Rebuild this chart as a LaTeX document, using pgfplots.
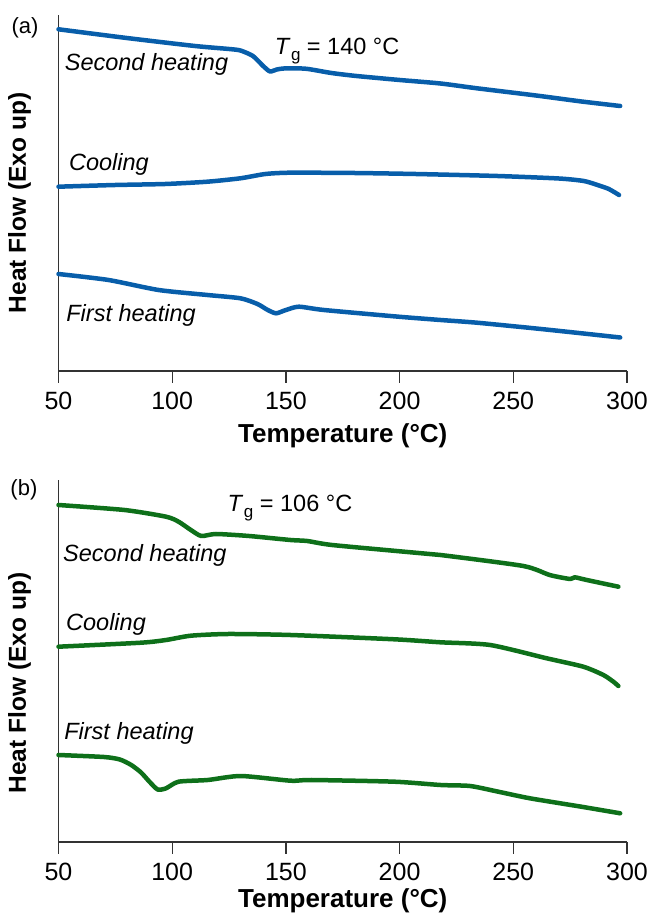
\documentclass[border=0pt]{standalone}
\usepackage{fontspec}
\setmainfont{Liberation Sans}
\usepackage{pgfplots}
\pgfplotsset{compat=1.18}
\definecolor{dscblue}{RGB}{8,94,170}
\definecolor{dscgreen}{RGB}{14,112,26}
\newcommand{\lbl}{\itshape\fontsize{23.5}{28}\selectfont}
\newcommand{\tg}[1]{\textit{T}\kern0.5pt\raisebox{-0.22em}{\fontsize{17}{20}\selectfont g}\ = #1 °C}
\begin{document}%
\begin{tikzpicture}%
\pgfplotsset{dsc/.style={
  scale only axis, width=568.5pt, xmin=50, xmax=300,
  axis lines=left, axis line style={-, line width=1.2pt, black!80},
  xtick={50,100,...,300}, ytick=\empty, tick align=outside,
  major tick length=12pt, tick style={line width=1.2pt, black!80},
  xticklabel style={font=\fontsize{25}{30}\selectfont, yshift=-6pt},
  /pgf/number format/assume math mode=true,
  clip=false, anchor=south west,
  xlabel={Temperature (°C)},
  ylabel={Heat Flow (Exo up)},
  every axis plot/.append style={line width=4.5pt, line join=round, line cap=round, smooth, tension=0.4},
}}%
% ---------------- (a)
\begin{axis}[dsc, at={(58.5pt,545pt)}, height=356pt, ymin=-371, ymax=-15,
  xlabel style={font=\bfseries\fontsize{26}{30}\selectfont, at={(axis description cs:0.5,-0.2022)}, anchor=base},
  ylabel style={font=\bfseries\fontsize{24.5}{30}\selectfont, at={(axis description cs:-0.0572,0.472)}, anchor=base}]
\addplot[dscblue] coordinates {
(50,-29.3) (80,-38) (110,-46) (125,-49) (130,-50.5) (135.5,-56) (140,-66) (143,-71.5)
(146,-69.5) (150,-68.3) (159,-68.8) (170,-73) (181,-76) (200,-80) (218,-83.5) (234,-88.3)
(260,-95.5) (280,-101.5) (297,-106)};
\addplot[dscblue] coordinates {
(50,-186.7) (75,-185) (97,-184) (115.5,-181.7) (130,-178.3) (141,-174) (152,-172.7)
(180,-173) (207,-174) (243,-176) (270,-178.5) (281,-181) (287,-185) (292,-189) (296.5,-195)};
\addplot[dscblue] coordinates {
(50,-274) (72,-280) (94,-290) (115.5,-295) (130,-298.3) (137.5,-304) (142,-310) (145.7,-313.3)
(150,-310) (155.7,-306.7) (166.7,-310) (199.5,-316.7) (218,-320) (234,-322.7) (260,-328.5)
(280,-333.3) (297,-337.5)};
\node[font=\fontsize{22}{26}\selectfont] at (axis cs:35.3,-27.5) {(a)};
\node[font=\lbl] at (axis cs:88.7,-64) {Second heating};
\node[font=\lbl] at (axis cs:72.2,-164) {Cooling};
\node[font=\lbl] at (axis cs:81.9,-315) {First heating};
\node[font=\fontsize{23.5}{28}\selectfont, anchor=base] at (axis cs:172.5,-55) {\tg{140}};
\end{axis}
% ---------------- (b)
\begin{axis}[dsc, at={(58.5pt,74pt)}, height=362pt, ymin=-842, ymax=-480,
  xlabel style={font=\bfseries\fontsize{26}{30}\selectfont, at={(axis description cs:0.5,-0.1823)}, anchor=base},
  ylabel style={font=\bfseries\fontsize{24.5}{30}\selectfont, at={(axis description cs:-0.0572,0.439)}, anchor=base}]
\addplot[dscgreen] coordinates {
(50,-505) (79,-510) (97.3,-516.7) (102.8,-521.7) (108.2,-530) (112.8,-536) (119.2,-534)
(133.8,-536) (152,-540) (159.4,-541) (170.3,-545) (206.8,-552.7) (218,-555) (254.4,-566)
(266,-575) (275,-579) (277,-577.3) (282.3,-580) (296.2,-586.7)};
\addplot[dscgreen] coordinates {
(50,-646.7) (86.3,-642.7) (97.3,-640) (108.2,-635.7) (124.7,-634) (152,-635) (197.7,-639.3)
(218,-642.3) (239.8,-645) (264.7,-658.3) (280.8,-666.7) (289.6,-675) (294,-681.7) (296.2,-686)};
\addplot[dscgreen] coordinates {
(50,-755) (70,-757) (77,-759.5) (82,-765) (86.3,-772.5) (90,-781.7) (93.6,-789.5) (97.3,-788.3)
(102.8,-781.7) (115.6,-780) (130.2,-776) (152,-780.7) (161.2,-780) (197.7,-781.7)
(218,-785) (231,-786) (243.4,-791.7) (257.3,-798.3) (279.9,-806.7) (297,-813.3)};
\node[font=\fontsize{22}{26}\selectfont] at (axis cs:34.8,-490) {(b)};
\node[font=\lbl] at (axis cs:88,-555) {Second heating};
\node[font=\lbl] at (axis cs:70.9,-624) {Cooling};
\node[font=\lbl] at (axis cs:81,-733) {First heating};
\node[font=\fontsize{23.5}{28}\selectfont, anchor=base] at (axis cs:151.8,-512) {\tg{106}};
\end{axis}
\pgfresetboundingbox
\useasboundingbox (0pt,0pt) rectangle (650pt,916pt);
\end{tikzpicture}%
\end{document}
